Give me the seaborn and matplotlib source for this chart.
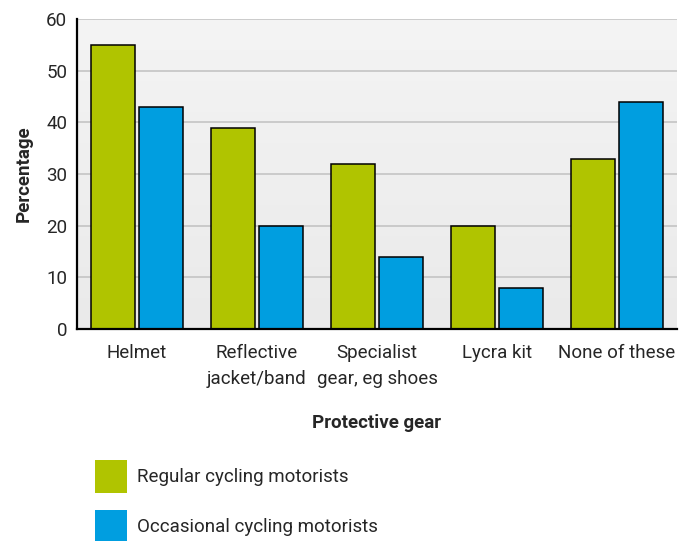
import numpy as np
import pandas as pd
import matplotlib
matplotlib.use("Agg")
import matplotlib.pyplot as plt
import seaborn as sns
from matplotlib.patches import Patch
from matplotlib.ticker import FixedLocator
from matplotlib.colors import LinearSegmentedColormap

# Chart data
categories = ["Helmet", "Reflective\njacket/band", "Specialist\ngear, eg shoes", "Lycra kit", "None of these"]
groups = ["Regular cycling motorists", "Occasional cycling motorists"]
regular = [55, 39, 32, 20, 33]
occasional = [43, 20, 14, 8, 44]
y_ticks = [0, 10, 20, 30, 40, 50, 60]

colors = ["#b0c400", "#009ee0"]

df = pd.DataFrame({
    "gear": categories * 2,
    "group": [groups[0]] * len(categories) + [groups[1]] * len(categories),
    "pct": regular + occasional,
})

sns.set_style("white")
plt.rcParams["font.family"] = ["Roboto", "DejaVu Sans"]
fs = 13.5

fig = plt.figure(figsize=(6.79, 5.41), dpi=100)
ax = fig.add_axes([77 / 679, 1 - 329 / 541, 600 / 679, 310 / 541])

# soft vertical gradient behind the plot area
bg = LinearSegmentedColormap.from_list("bg", ["#eaeaea", "#f4f4f4"])
ax.imshow(np.linspace(0, 1, 256)[::-1, None], cmap=bg, aspect="auto",
          extent=(0, 1, 0, 1), transform=ax.transAxes, zorder=0)

sns.barplot(data=df, x="gear", y="pct", hue="group", order=categories,
            hue_order=groups, palette=colors, width=0.8, gap=0.1,
            edgecolor="black", linewidth=1.1, saturation=1, legend=False,
            ax=ax, zorder=3)

ax.set_xlim(-0.5, 4.5)
ax.set_ylim(0, 60)
ax.set_yticks(y_ticks)
ax.yaxis.grid(True, color="#c4c4c4", linewidth=1.2, zorder=1)
ax.set_axisbelow(True)

for s in ["top", "right"]:
    ax.spines[s].set_visible(False)
for s in ["left", "bottom"]:
    ax.spines[s].set_linewidth(1.6)
    ax.spines[s].set_color("black")
    ax.spines[s].set_zorder(5)

ax.tick_params(axis="y", length=0, pad=7, labelsize=fs)
ax.tick_params(axis="x", which="major", length=0, pad=11, labelsize=fs)
for lbl in ax.get_xticklabels():
    lbl.set_linespacing(1.55)
ax.xaxis.set_minor_locator(FixedLocator(np.arange(0.5, 5, 1.0)))
ax.tick_params(axis="x", which="minor", direction="in", length=4.5, width=1.6, color="black")

ax.set_xlabel("Protective gear", fontsize=13.5, fontweight="bold", labelpad=19)
ax.set_ylabel("Percentage", fontsize=13.5, fontweight="bold", labelpad=10)

handles = [Patch(facecolor=c, edgecolor="none", label=g) for c, g in zip(colors, groups)]
fig.legend(handles=handles, loc="upper left", bbox_to_anchor=(95 / 679, 1 - 460 / 541),
           frameon=False, fontsize=fs, handlelength=1.71, handleheight=2.33,
           handletextpad=0.53, labelspacing=0.91, borderpad=0, borderaxespad=0)

fig.savefig("out.png", dpi=100)
